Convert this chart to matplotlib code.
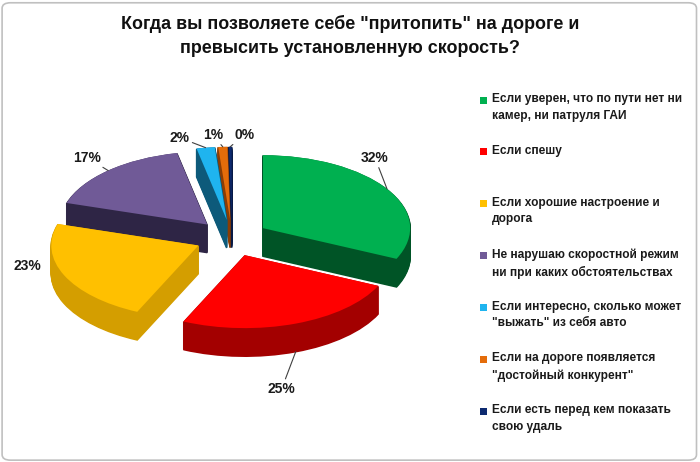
import matplotlib.pyplot as plt
from matplotlib.patches import FancyBboxPatch, Rectangle
import numpy as np

title = 'Когда вы позволяете себе "притопить" на дороге и\nпревысить установленную скорость?'
labels = ['Если уверен, что по пути нет ни\nкамер, ни патруля ГАИ',
          'Если спешу',
          'Если хорошие настроение и\nдорога',
          'Не нарушаю скоростной режим\nни при каких обстоятельствах',
          'Если интересно, сколько может\n"выжать" из себя авто',
          'Если на дороге появляется\n"достойный конкурент"',
          'Если есть перед кем показать\nсвою удаль']
values = [32, 25, 23, 17, 2, 1, 0.3]
pct_text = ['32%', '25%', '23%', '17%', '2%', '1%', '0%']

top_colors = ['#00b050', '#ff0000', '#ffc000', '#705a97', '#1fb4ef', '#e46c0a', '#0d2a70']
side_colors = ['#005426', '#a30000', '#d49e00', '#2e2545', '#0d5a7a', '#8a3d05', '#081a45']

bold = dict(fontweight='bold', family=['Liberation Sans', 'DejaVu Sans'])

fig = plt.figure(figsize=(7, 4.62), dpi=100)
W, H = 700, 462

# pie axes: 147 px per unit in x, 73 px per unit in y
ax = fig.add_axes([26 / W, 62 / H, 412 / W, 280 / H])
explode = [0.25] * len(values)
depth = 0.384
nlay = 30
for d in np.linspace(depth, 0, nlay)[:-1]:
    ax.pie(values, explode=explode, colors=side_colors, startangle=90,
           counterclock=False, center=(0, -d),
           wedgeprops=dict(linewidth=1.2))
    for w in ax.patches[-len(values):]:
        w.set_edgecolor(w.get_facecolor())
wedges, _ = ax.pie(values, explode=explode, colors=top_colors, startangle=90,
                   counterclock=False, wedgeprops=dict(linewidth=0))
ax.set_aspect('auto')
ax.set_xlim(-1.4, 1.4)
ax.set_ylim(-2.219, 1.616)
ax.axis('off')

# percentage labels (offsets in pixels from slice edge)
offsets = [(-12, 31), (-14, -37), (-37, 9), (-21, 13), (-26, 10), (-10, 12), (14, 12)]
leaders = [True, True, False, True, True, True, True]
for i, w in enumerate(wedges):
    mid = np.deg2rad((w.theta1 + w.theta2) / 2)
    cx, cy = w.center
    x = cx + np.cos(mid)
    y = cy + np.sin(mid)
    if np.sin(mid) < -0.7:
        y -= depth
    arrow = dict(arrowstyle='-', color='#404040', lw=0.8, shrinkA=0, shrinkB=0) if leaders[i] else None
    ax.annotate(pct_text[i], xy=(x, y), xytext=offsets[i], textcoords='offset pixels',
                ha='center', va='center', fontsize=10, color='#1a1a1a',
                arrowprops=arrow, **bold)

# title
fig.text(350 / W, 1 - 36 / H, title, ha='center', va='center', fontsize=12.9,
         linespacing=1.6, color='#111111', **bold)

# legend
y0, step = 100, 51.9
for i, lab in enumerate(labels):
    yy = y0 + i * step
    fig.add_artist(Rectangle((480 / W, 1 - (yy + 3.5) / H), 7 / W, 7 / H,
                             transform=fig.transFigure, color=top_colors[i], lw=0))
    fig.text(492 / W, 1 - (yy - 7) / H, lab, ha='left', va='top', fontsize=8.6,
             linespacing=1.5, color='#1a1a1a', **bold)

# chart border
fig.add_artist(FancyBboxPatch((0.003, 0.004), 0.992, 0.99,
                              boxstyle='round,pad=0,rounding_size=0.012',
                              transform=fig.transFigure, fc='none', ec='#c0c0c0', lw=1.2))

fig.savefig('out.png', dpi=100)
